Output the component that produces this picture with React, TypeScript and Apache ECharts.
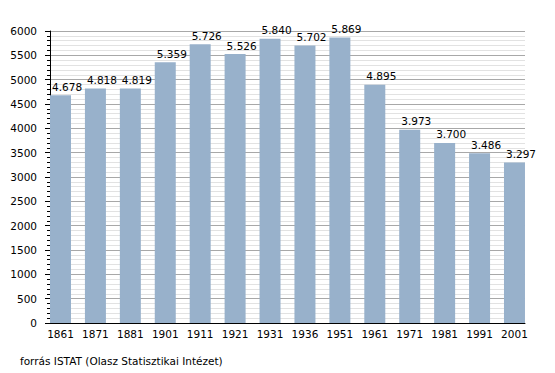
import React, { useEffect, useRef } from "react";
import * as echarts from "echarts";

const years = ["1861", "1871", "1881", "1901", "1911", "1921", "1931", "1936", "1951", "1961", "1971", "1981", "1991", "2001"];
const population = [4678, 4818, 4819, 5359, 5726, 5526, 5840, 5702, 5869, 4895, 3973, 3700, 3486, 3297];
const yTicks = { min: 0, max: 6000, interval: 500 };
const sourceText = "forrás ISTAT (Olasz Statisztikai Intézet)";

const fmt = (v: number) => {
  const s = String(v);
  return s.length > 3 ? s.slice(0, s.length - 3) + "." + s.slice(s.length - 3) : s;
};

export default function App() {
  const ref = useRef<HTMLDivElement>(null);
  useEffect(() => {
    if (!ref.current) return;
    const chart = echarts.init(ref.current, undefined, { renderer: "svg" });
    const font = "DejaVu Sans";
    chart.setOption({
      animation: false,
      backgroundColor: "#ffffff",
      textStyle: { fontFamily: font },
      grid: [
        { left: 50, right: 30, top: 31, bottom: 50 },
        { left: 43.04, right: 23.06, top: 31, bottom: 50 },
      ],
      xAxis: [
        {
          type: "category",
          gridIndex: 0,
          data: years,
          axisLine: { show: true, lineStyle: { color: "#000", width: 1 } },
          axisTick: { show: false },
          axisLabel: { show: false },
          splitLine: { show: false },
        },
        {
          type: "category",
          gridIndex: 1,
          data: years,
          boundaryGap: true,
          axisLine: { show: false },
          axisTick: { show: false },
          axisLabel: { color: "#000", fontSize: 10.5, fontFamily: font, margin: 5 },
          splitLine: { show: false },
        },
      ],
      yAxis: [
        {
          type: "value",
          gridIndex: 0,
          min: yTicks.min,
          max: yTicks.max,
          interval: yTicks.interval,
          axisLine: { show: true, lineStyle: { color: "#000", width: 1 } },
          axisTick: { show: true, length: 5, lineStyle: { color: "#000" } },
          minorTick: { show: true, splitNumber: 5, length: 3, lineStyle: { color: "#000" } },
          axisLabel: { color: "#000", fontSize: 10.5, fontFamily: font, margin: 13, formatter: (v: number) => String(v) },
          splitLine: { show: true, lineStyle: { color: "#a8a8a8", width: 1 } },
          minorSplitLine: { show: true, lineStyle: { color: "#e2e2e2", width: 1 } },
        },
        {
          type: "value",
          gridIndex: 1,
          min: yTicks.min,
          max: yTicks.max,
          interval: yTicks.interval,
          show: false,
          splitLine: { show: false },
        },
      ],
      series: [
        {
          type: "bar",
          xAxisIndex: 1,
          yAxisIndex: 1,
          data: population,
          barWidth: 21,
          itemStyle: { color: "#98b1cb" },
          z: 5,
          label: {
            show: true,
            position: [2, -3],
            align: "left",
            verticalAlign: "bottom",
            color: "#000",
            fontSize: 10.5,
            fontFamily: font,
            formatter: (p: any) => fmt(p.value),
          },
        },
      ],
      graphic: [
        {
          type: "text",
          left: 20,
          top: 355,
          style: { text: sourceText, fill: "#000", font: "10.5px 'DejaVu Sans'" },
        },
      ],
    });
    return () => chart.dispose();
  }, []);
  return <div ref={ref} style={{ width: 555, height: 373, position: "absolute", left: 0, top: 0 }} />;
}
